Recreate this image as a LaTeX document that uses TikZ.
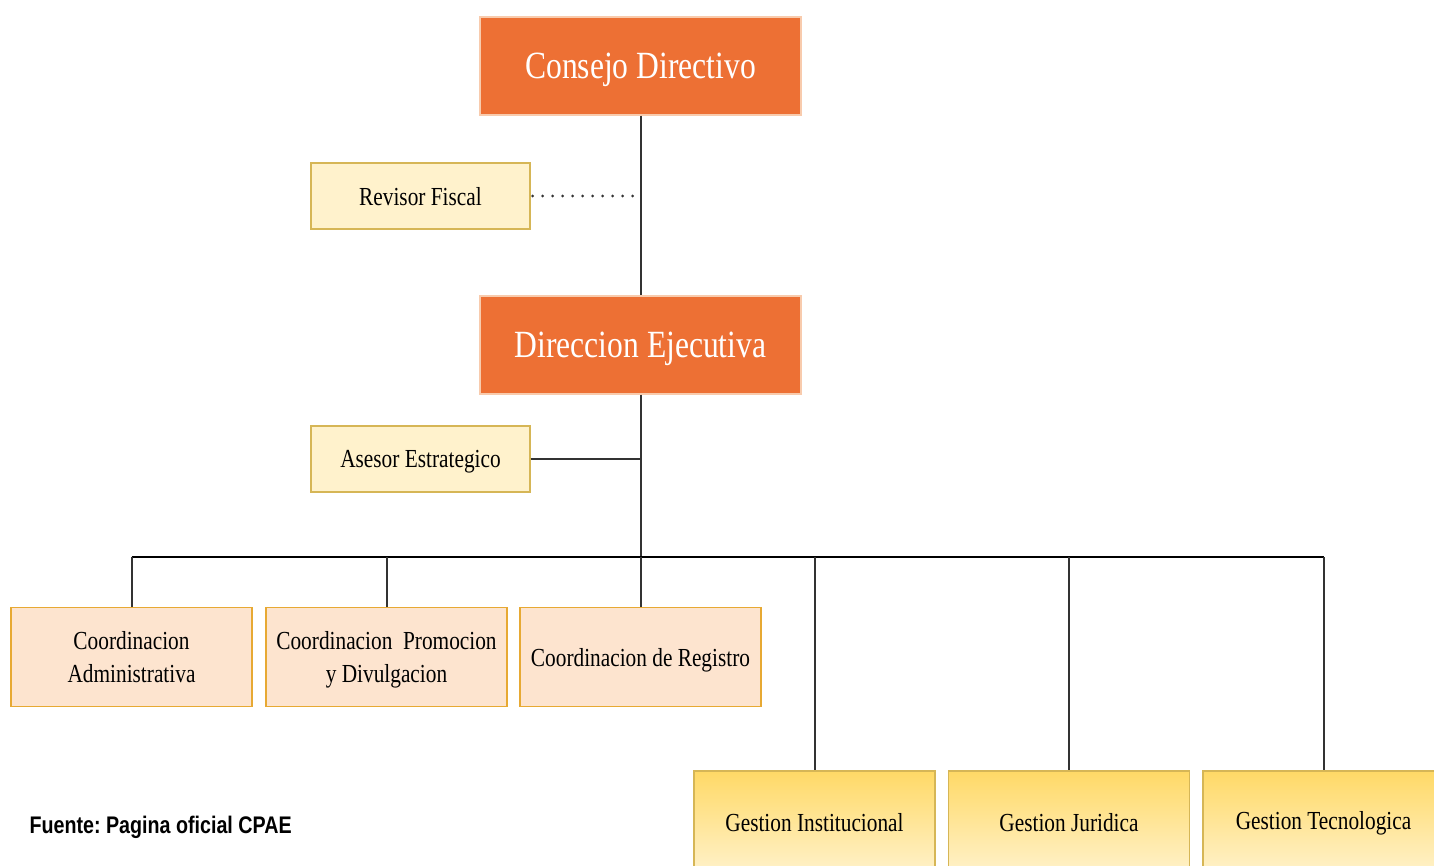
\documentclass[tikz,border=0pt]{standalone}
\usepackage{fontspec}
\setmainfont{Liberation Serif}[FakeStretch=0.82]
\newfontfamily\fuentefont{Liberation Sans}[FakeStretch=0.82]
\frenchspacing

\definecolor{naranja}{HTML}{ED7034}
\definecolor{bordenaranja}{HTML}{F8CBAD}
\definecolor{crema}{HTML}{FFF2CC}
\definecolor{bordecrema}{HTML}{D6B656}
\definecolor{durazno}{HTML}{FDE4CF}
\definecolor{bordedurazno}{HTML}{E7A933}
\definecolor{amarillo}{HTML}{FFD966}
\definecolor{gris}{HTML}{333333}

\begin{document}
\begin{tikzpicture}[x=1pt, y=-1pt,
  jefe/.style={draw=bordenaranja, fill=naranja, text=white, line width=1.2pt,
    minimum width=321pt, minimum height=98pt, inner sep=0pt, text depth=0pt,
    font=\fontsize{38.5}{44}\selectfont},
  asesor/.style={draw=bordecrema, fill=crema, line width=1.2pt,
    minimum width=219pt, minimum height=66pt, inner sep=0pt, text depth=0pt,
    font=\fontsize{26}{33}\selectfont},
  coord/.style={draw=bordedurazno, fill=durazno, line width=1.5pt,
    minimum width=241pt, minimum height=99pt, inner sep=0pt, align=center,
    text depth=0pt, font=\fontsize{26}{33}\selectfont},
  gestion/.style={draw=bordecrema, top color=amarillo, bottom color=crema,
    line width=1.2pt, minimum width=241pt, minimum height=104pt, inner sep=0pt,
    font=\fontsize{26}{33}\selectfont},
  linea/.style={line width=2pt, color=gris}]

  \useasboundingbox (0,0) rectangle (1434,865);
  \clip (0,0) rectangle (1434,865);

  % cabeza
  \node[jefe] (consejo) at (640.5,66) {Consejo Directivo};
  \node[asesor] (revisor) at (420.5,196) {Revisor Fiscal};
  \node[jefe] (direccion) at (640.5,345) {Direccion Ejecutiva};
  \node[asesor] (estrategico) at (420.5,459) {Asesor Estrategico};

  % coordinaciones
  \node[coord] (coordadm) at (131.5,657) {Coordinacion\\Administrativa};
  \node[coord] (coordprom) at (386.5,657) {Coordinacion~ Promocion\\y Divulgacion};
  \node[coord] (coordreg) at (640.5,657) {Coordinacion de Registro};

  % gestiones
  \node[gestion] (gestinst) at (814.5,823) {Gestion Institucional};
  \node[gestion] (gestjur) at (1069,823) {Gestion Juridica};
  \node[gestion] (gesttec) at (1323.5,823) {Gestion Tecnologica};

  \coordinate (bus) at (640.5,557);

  \draw[linea] (consejo.south) -- (direccion.north);
  \draw[line width=3.2pt, line cap=round, dash pattern=on 0pt off 10pt, color=gris]
    (revisor.east) ++(2,0) -- (revisor.east -| consejo.south);
  \draw[linea] (estrategico.east) -- (estrategico.east -| direccion.south);
  \draw[linea] (direccion.south) -- (bus);
  \draw[linea, color=black] (coordadm.north |- bus) -- (gesttec.north |- bus);
  \foreach \n in {coordadm,coordprom,coordreg,gestinst,gestjur,gesttec}
    \draw[linea] (\n.north |- bus) -- (\n.north);

  \node[anchor=west, font=\fuentefont\bfseries\fontsize{24}{28}\selectfont]
    (fuente) at (26,827) {Fuente: Pagina oficial CPAE};
\end{tikzpicture}
\end{document}
